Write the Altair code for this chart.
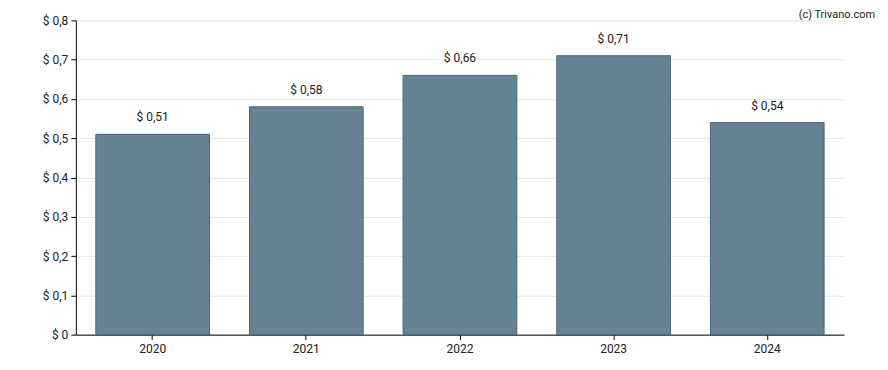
import altair as alt
import pandas as pd

years = ["2020", "2021", "2022", "2023", "2024"]
values = [0.51, 0.58, 0.66, 0.71, 0.54]
y_ticks = [0, 0.1, 0.2, 0.3, 0.4, 0.5, 0.6, 0.7, 0.8]

df = pd.DataFrame({"year": years, "value": values})

x_enc = alt.X("year:N", sort=years, title=None,
              scale=alt.Scale(paddingInner=0.26, paddingOuter=0.13),
              axis=alt.Axis(labelAngle=0, domainColor="#000000", tickColor="#000000",
                            tickSize=5, labelPadding=4, labelFontSize=12,
                            labelColor="#222222", labelFont="Roboto", grid=False))
y_enc = alt.Y("value:Q", title=None,
              scale=alt.Scale(domain=[0, 0.8], nice=False),
              axis=alt.Axis(values=y_ticks, labelOverlap=False,
                            labelExpr="'$ ' + replace(format(datum.value, '~g'), '.', ',')",
                            domainColor="#000000", tickColor="#000000", tickSize=5,
                            labelPadding=3, labelFontSize=12, labelColor="#222222",
                            labelFont="Roboto", gridColor="#e6e6e6", grid=True))

base = alt.Chart(df).encode(x=x_enc, y=y_enc)

bars = base.mark_bar(fill="#668394", stroke="#4b6577", strokeWidth=1)

labels = base.transform_calculate(
    lbl="'$ ' + replace(format(datum.value, '.2f'), '.', ',')"
).mark_text(baseline="alphabetic", dy=-13, fontSize=12, font="Roboto", color="#222222").encode(
    text="lbl:N",
)

credit = alt.Chart(pd.DataFrame({"t": ["(c) Trivano.com"]})).mark_text(
    align="right", baseline="middle", fontSize=11, font="Roboto", color="#222222"
).encode(x=alt.value(801), y=alt.value(-5), text="t:N")

chart = alt.layer(bars, labels, credit).properties(
    width=770, height=315,
    autosize=alt.AutoSizeParams(type="none"),
    padding={"left": 68, "top": 12, "right": 36, "bottom": 27},
    background="white",
).configure_view(stroke=None, strokeWidth=0)

chart.save("out.html", embed_options={"renderer": "svg", "actions": False})
